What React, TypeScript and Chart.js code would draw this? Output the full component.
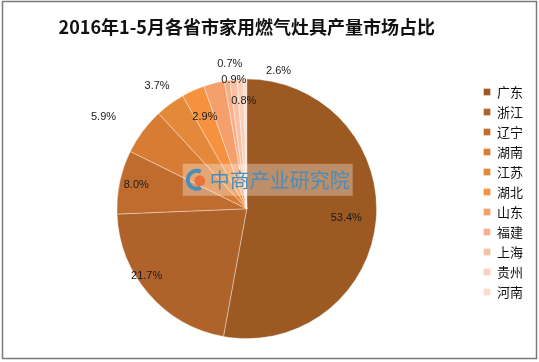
import React, { useEffect, useRef } from "react";
import { Chart, registerables } from "chart.js";

Chart.register(...registerables);

const TITLE = "2016年1-5月各省市家用燃气灶具产量市场占比";
const categories = ["广东", "浙江", "辽宁", "湖南", "江苏", "湖北", "山东", "福建", "上海", "贵州", "河南"];
const shares = [53.4, 21.7, 8.0, 5.9, 3.7, 2.9, 2.6, 0.7, 0.9, 0.8, 0.4];
const shownLabels = ["53.4%", "21.7%", "8.0%", "5.9%", "3.7%", "2.9%", "2.6%", "0.7%", "0.9%", "0.8%", ""];
const colors = [
  "#9C5922", "#B0622B", "#C06C2E", "#D97C33", "#E4883A", "#F6913F",
  "#F5A06C", "#F7B08A", "#F8C0A2", "#FACFB8", "#FCDDCD",
];
// label placement: r = fraction of radius; a = absolute angle (deg, clockwise from 12 o'clock) or null for slice middle
const labelPlacement: { r: number; a: number | null }[] = [
  { r: 0.77, a: null },
  { r: 0.93, a: 236 },
  { r: 0.87, a: null },
  { r: 1.31, a: 302.6 },
  { r: 1.17, a: null },
  { r: 0.78, a: null },
  { r: 1.09, a: 13 },
  { r: 1.12, a: -6.7 },
  { r: 1.0, a: -5.7 },
  { r: 0.83, a: -1.6 },
  { r: 1.0, a: null },
];

const framePlugin = {
  id: "frame",
  beforeDraw(chart: any) {
    const { ctx, width, height } = chart;
    ctx.save();
    ctx.fillStyle = "#ffffff";
    ctx.fillRect(0, 0, width, height);
    ctx.strokeStyle = "#7a7a7a";
    ctx.lineWidth = 1.5;
    ctx.strokeRect(2.5, 1.5, width - 5, height - 5);
    ctx.restore();
  },
};

const overlayPlugin = {
  id: "overlay",
  afterDatasetsDraw(chart: any) {
    const { ctx } = chart;
    const meta = chart.getDatasetMeta(0);
    const arcs = meta.data;
    if (!arcs.length) return;
    const cx = arcs[0].x;
    const cy = arcs[0].y;
    const R = arcs[0].outerRadius;

    // watermark
    ctx.save();
    const bx = cx - 64, by = cy - 45, bw = 170, bh = 32;
    ctx.fillStyle = "rgba(255,255,255,0.32)";
    ctx.fillRect(bx, by, bw, bh);
    const lx = bx + 14, ly = by + bh / 2;
    ctx.lineWidth = 4;
    ctx.strokeStyle = "#4A8DB8";
    ctx.beginPath();
    ctx.arc(lx, ly, 9, Math.PI * 0.35, Math.PI * 1.65);
    ctx.stroke();
    ctx.fillStyle = "#E8743B";
    ctx.beginPath();
    ctx.arc(lx + 3, ly + 1, 5.5, 0, Math.PI * 2);
    ctx.fill();
    ctx.fillStyle = "#4A8DB8";
    ctx.font = "20px 'Noto Sans CJK SC'";
    ctx.textBaseline = "middle";
    ctx.textAlign = "left";
    ctx.fillText("中商产业研究院", bx + 27, ly + 1);
    ctx.restore();

    // data labels
    ctx.save();
    ctx.font = "11px 'Liberation Sans', 'DejaVu Sans', sans-serif";
    ctx.fillStyle = "#1a1a1a";
    ctx.textAlign = "center";
    ctx.textBaseline = "middle";
    arcs.forEach((arc: any, i: number) => {
      const txt = shownLabels[i];
      if (!txt) return;
      const p = labelPlacement[i];
      let ang: number;
      if (p.a === null) {
        ang = (arc.startAngle + arc.endAngle) / 2;
      } else {
        ang = (p.a * Math.PI) / 180 - Math.PI / 2;
      }
      const x = cx + Math.cos(ang) * R * p.r;
      const y = cy + Math.sin(ang) * R * p.r;
      ctx.fillText(txt, x, y);
    });
    ctx.restore();
  },
};

export default function App() {
  const ref = useRef<HTMLCanvasElement | null>(null);
  useEffect(() => {
    document.body.style.margin = "0";
    if (!ref.current) return;
    const chart = new Chart(ref.current, {
      type: "pie",
      data: {
        labels: categories,
        datasets: [
          {
            data: shares,
            backgroundColor: colors,
            borderColor: "rgba(255,255,255,0.45)",
            borderWidth: 0.8,
          },
        ],
      },
      options: {
        animation: false,
        responsive: false,
        layout: { padding: { left: 17, right: 6, top: 0, bottom: 23 } },
        plugins: {
          title: {
            display: true,
            fullSize: false,
            text: TITLE,
            color: "#111",
            font: { size: 18, weight: "bold", family: "'Noto Sans CJK SC'" },
            padding: { top: 16, bottom: 41 },
          },
          legend: {
            position: "right",
            align: "start",
            fullSize: false,
            labels: {
              boxWidth: 7,
              boxHeight: 7,
              padding: 7,
              color: "#111",
              font: { size: 13, family: "'Noto Sans CJK SC'" },
            },
          },
          tooltip: { enabled: false },
        },
      },
      plugins: [framePlugin, overlayPlugin],
    });
    return () => chart.destroy();
  }, []);
  return (
    <div style={{ width: 539, height: 362 }}>
      <canvas ref={ref} width={539} height={362} />
    </div>
  );
}
